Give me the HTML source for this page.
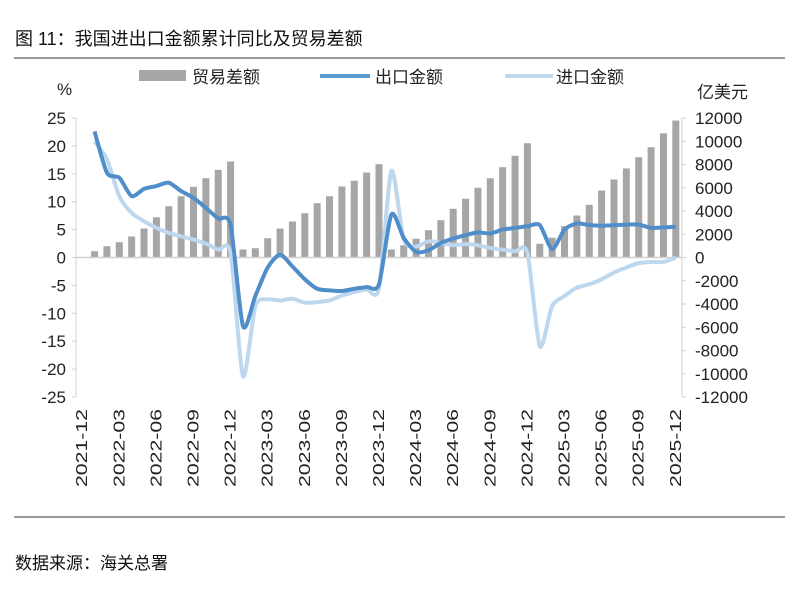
<!DOCTYPE html>
<html><head><meta charset="utf-8"><style>
body{margin:0;background:#fff;width:800px;height:600px;overflow:hidden;font-family:"Liberation Sans","Noto Sans CJK SC",sans-serif;}
svg text{font-family:"Liberation Sans","Noto Sans CJK SC",sans-serif;}
</style></head><body>
<svg id="chart" width="800" height="600" xmlns="http://www.w3.org/2000/svg">
<text x="15" y="45" font-size="18" fill="#111">图 11：我国进出口金额累计同比及贸易差额</text>
<line x1="14" y1="58" x2="785" y2="58" stroke="#333" stroke-width="1"/>
<line x1="14" y1="517" x2="785" y2="517" stroke="#333" stroke-width="1"/>
<text x="15" y="569" font-size="17" fill="#111">数据来源：海关总署</text>
<g>
<rect x="139" y="70" width="47" height="11" fill="#a6a6a6"/>
<text x="192" y="83" font-size="17" fill="#222">贸易差额</text>
<line x1="320" y1="76" x2="370" y2="76" stroke="#5b9bd5" stroke-width="4"/>
<text x="375" y="83" font-size="17" fill="#222">出口金额</text>
<line x1="505" y1="76" x2="553" y2="76" stroke="#bdd7ee" stroke-width="4"/>
<text x="556" y="83" font-size="17" fill="#222">进口金额</text>
</g>
<text x="57" y="95" font-size="17" fill="#222">%</text>
<text x="697" y="98" font-size="17" fill="#222">亿美元</text>
<g id="plot"></g>
</svg>
<script>
const categories = ["2021-12","2022-01","2022-02","2022-03","2022-04","2022-05","2022-06","2022-07","2022-08","2022-09","2022-10","2022-11","2022-12","2023-01","2023-02","2023-03","2023-04","2023-05","2023-06","2023-07","2023-08","2023-09","2023-10","2023-11","2023-12","2024-01","2024-02","2024-03","2024-04","2024-05","2024-06","2024-07","2024-08","2024-09","2024-10","2024-11","2024-12","2025-01","2025-02","2025-03","2025-04","2025-05","2025-06","2025-07","2025-08","2025-09","2025-10","2025-11","2025-12"];
const balance = [null,540,970,1320,1810,2490,3460,4410,5270,6080,6820,7540,8260,690,800,1660,2490,3100,3810,4670,5270,6110,6600,7310,8030,690,1060,1610,2350,3210,4190,5050,6000,6820,7770,8750,9830,1180,1700,2700,3610,4530,5760,6710,7660,8630,9490,10690,11780];
const exportYoY = [null,22.6,15.2,14.3,11.0,12.3,12.8,13.4,11.9,10.7,8.9,7.0,5.8,-12.3,-6.9,-1.8,0.5,-1.6,-3.9,-5.6,-5.9,-6.0,-5.6,-5.3,-4.8,7.7,3.5,1.0,1.3,2.6,3.4,4.0,4.5,4.3,5.0,5.3,5.6,5.8,1.5,5.0,6.1,5.8,5.7,5.8,5.9,5.9,5.3,5.4,5.5];
const importYoY = [null,20.8,17.6,11.0,8.0,6.5,5.3,4.4,3.8,3.2,2.5,1.4,0.8,-21.3,-8.7,-7.5,-7.7,-7.4,-8.1,-8.0,-7.7,-6.8,-6.2,-5.7,-5.5,15.5,3.2,2.0,2.9,2.6,2.2,2.4,2.2,1.7,1.4,1.1,0.8,-15.9,-8.7,-6.9,-5.4,-4.8,-3.9,-2.7,-1.8,-1.0,-0.8,-0.8,0.0];
const leftTicks = [25,20,15,10,5,0,-5,-10,-15,-20,-25];
const rightTicks = [12000,10000,8000,6000,4000,2000,0,-2000,-4000,-6000,-8000,-10000,-12000];

const NS="http://www.w3.org/2000/svg";
const plot=document.getElementById('plot');
const X0=76,X1=682,YT=118,YB=397;
const bw=(X1-X0)/categories.length;
const xc=i=>X0+(i+0.5)*bw;
const yL=v=>YT+(25-v)/50*(YB-YT);
const yR=v=>YT+(12000-v)/24000*(YB-YT);
function mk(t,a){const e=document.createElementNS(NS,t);for(const k in a)e.setAttribute(k,a[k]);plot.appendChild(e);return e;}

let e;
e=mk('line',{x1:X0,y1:YT,x2:X0,y2:YB,stroke:'#d0d0d0','stroke-width':1});


e=mk('line',{x1:X1,y1:YT,x2:X1,y2:YB,stroke:'#d0d0d0','stroke-width':1});


leftTicks.forEach(v=>{
  e=mk('text',{x:66,y:yL(v)+6,'font-size':17,'text-anchor':'end',fill:'#222'});e.textContent=v;
  
  
  e=mk('line',{x1:X0-4,y1:yL(v),x2:X0,y2:yL(v),stroke:'#d0d0d0'});
  
  
});
rightTicks.forEach(v=>{
  e=mk('text',{x:695,y:yR(v)+6,'font-size':17,fill:'#222'});e.textContent=v;
  
  
  e=mk('line',{x1:X1,y1:yR(v),x2:X1+4,y2:yR(v),stroke:'#d0d0d0'});
  
  
});
categories.forEach((c,i)=>{
  if(i%3===0){
    const x=xc(i)+5;
    e=mk('text',{x:x,y:487,'font-size':16,fill:'#222',transform:`rotate(-90 ${x} 487)`,textLength:78,lengthAdjust:'spacingAndGlyphs'});e.textContent=c;
    
    
  }
});
balance.forEach((v,i)=>{
  if(v==null)return;
  const y=yR(v),y0=yR(0);
  e=mk('rect',{x:xc(i)-3.5,y:Math.min(y,y0),width:7,height:Math.abs(y0-y),fill:'#a6a6a6'});
  
  
});
e=mk('line',{x1:X0,y1:yL(0),x2:X1,y2:yL(0),stroke:'#d0d0d0','stroke-width':1.5});


function smooth(arr){
  const p=[];arr.forEach((v,i)=>{if(v!=null)p.push([xc(i),yL(v)]);});
  let d=`M${p[0][0]},${p[0][1]}`;
  for(let i=0;i<p.length-1;i++){
    const a=p[i-1]||p[i],b=p[i],c=p[i+1],n=p[i+2]||c;
    const t=8;
    d+=` C${b[0]+(c[0]-a[0])/t},${b[1]+(c[1]-a[1])/t} ${c[0]-(n[0]-b[0])/t},${c[1]-(n[1]-b[1])/t} ${c[0]},${c[1]}`;
  }
  return d;
}
e=mk('path',{d:smooth(importYoY),fill:'none',stroke:'#bdd7ee','stroke-width':4,'stroke-linejoin':'round'});


e=mk('path',{d:smooth(exportYoY),fill:'none',stroke:'#4f8ec9','stroke-width':4,'stroke-linejoin':'round'});


</script>
</body></html>
